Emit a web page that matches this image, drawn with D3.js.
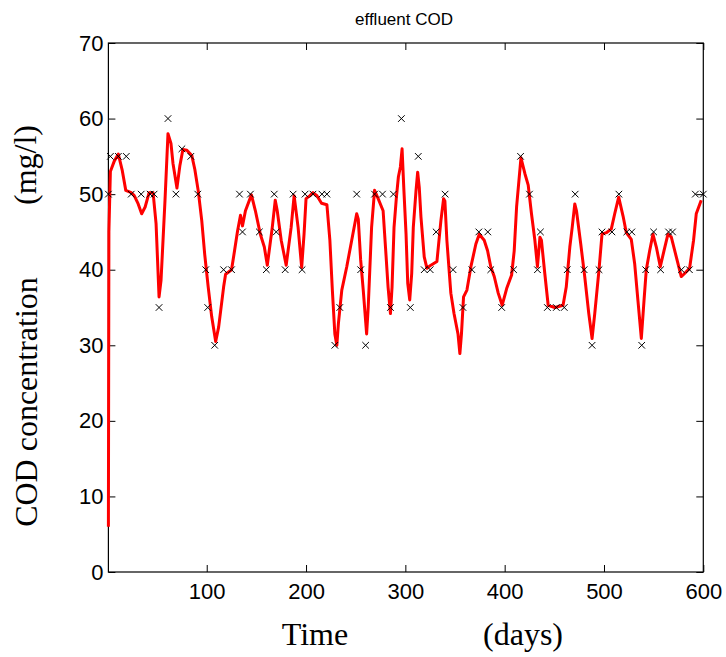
<!DOCTYPE html>
<html><head><meta charset="utf-8">
<script src="https://cdn.jsdelivr.net/npm/d3@7"></script>
<style>
html,body{margin:0;padding:0;background:#fff;}
svg{display:block;}
</style>
</head><body>
<svg id="chart" width="726" height="657"></svg>
<script>
// ---- data ----
const title = "effluent COD";
const xTicks = [100, 200, 300, 400, 500, 600];
const yTicks = [0, 10, 20, 30, 40, 50, 60, 70];

// measured effluent COD (crosses)
const measDays = [1,3,11,19,24,34,43,47,52,61,69,75,84,91,99,101,108,117,125,133,136,144,153,160,168,170,179,187,196,199,207,216,221,229,234,251,255,260,269,277,285,288,296,305,313,319,325,331,340,348,358,367,374,383,386,397,409,416,425,433,436,443,452,460,463,471,480,488,495,498,508,515,523,528,538,542,550,557,565,569,578,586,592,600];
const measVals = [50,55,55,55,50,50,50,50,35,60,50,56,55,50,40,35,30,40,40,50,45,50,45,40,50,45,40,50,40,50,50,50,50,30,35,50,40,30,50,50,35,50,60,35,55,40,40,45,50,40,35,40,45,45,40,35,40,55,50,40,45,35,35,35,40,50,40,30,40,45,45,50,45,45,30,40,45,40,45,45,40,40,50,50];

// model output (red line)
const predDays = [1,1.5,3,7,11,15,18.5,24,27,31,34.5,38,42,46,49,52,54,58,61,64,66,70,73,76,80,85,88,91.5,95,98,101.5,105,109,112,117,119,125,128,131,134,136,139,145,149,154,158,161,166,169,171,175,180,185,188,192,195.6,198,200,204,207,211,215.6,221,224,226.5,229,231,232.6,236,241,246,251,252.6,255,257.6,261,262.6,266,269,272.6,277.6,280,282.6,285,286.6,288.6,291,293,295,296.7,298.4,300.7,302.4,304.4,306.4,308,310.7,312.4,314,315.7,319,321.7,325.7,331.8,335.8,338.5,339.8,341.8,345.8,349,353,354.9,356.5,358.6,362,366,371,374.4,379.4,382.8,386,389.5,393.5,397.5,402,407,409.6,412,416.4,420.4,423.7,427,430.4,433,435.5,437,440.4,443.8,450.5,458.8,462,465.6,468,470.6,472.3,476.6,480.6,484.7,488,490.7,495,498,502.4,507.4,510.8,514.8,519.2,522.5,527.5,530.9,534.2,537.6,540.3,542.6,546,549.3,552.7,556.7,560.4,564.4,567.8,572.8,577.8,581.2,586.2,590.2,592.9,597.9];
const predVals = [6,45,53,54.4,55.3,53.1,50.5,50.2,49.8,48.7,47.4,48.3,50.2,50.2,46.1,36.4,38.6,49.2,58,56.7,54.1,50.8,53.8,55.9,55.8,55.1,53.3,50.4,46.5,42,37.7,33.8,30.5,32.4,37.7,39.4,40,42.5,45.1,47.2,45.8,47.8,49.9,47.8,44.7,43,40.6,45.6,49.2,47.8,43.9,40.6,45.6,49.8,45.6,40.3,44.7,49.4,49.8,50.2,49.8,48.8,48.6,43.9,37.3,31.5,30,32.9,37.3,40.4,43.9,47.4,46.7,41.3,37.3,31.5,35,45.6,50.5,49.4,47.8,43,37.7,34.2,37.7,45.6,49.6,52.3,53.6,56,50.9,44.7,38.2,36,39.5,45.6,50.4,52.9,50.9,47,41.7,40.2,40.6,41.1,46.5,49.4,49.1,43.9,36.9,34.2,31.5,28.9,31.5,36.4,37.3,40.4,43.4,44.7,43.9,42.5,40.4,39.1,36.9,35.3,37.5,39.3,42.5,48.3,54.8,52.7,51.2,47.4,43.9,40.4,44.3,43.9,39.5,35.3,35,35.3,37.7,43,45.6,48.7,47.8,43.4,39.1,34.2,30.9,34.2,40,44.7,44.9,45.4,47.4,49.6,47.1,44.9,44,40.8,35.9,30.9,35.9,40,42.5,44.7,43,40.4,42.5,44.7,44.3,41.7,39.1,39.5,40.2,43.9,47.4,49.2];

// ---- drawing ----
(function () {
const svg = d3.select("#chart");
const pLeft = 108.4, pRight = 703.3, pTop = 43, pBottom = 572;
const x = d3.scaleLinear().domain([1, 600]).range([pLeft, pRight]);
const y = d3.scaleLinear().domain([0, 70]).range([pBottom, pTop]);
const sans = "'Liberation Sans', Arial, sans-serif";
const serif = "'Liberation Serif', 'Times New Roman', serif";

// box
svg.append("rect").attr("x", pLeft).attr("y", pTop).attr("width", pRight - pLeft).attr("height", pBottom - pTop)
  .attr("fill", "none").attr("stroke", "#000").attr("stroke-width", 1.2);

// axes with inward ticks
const gx = svg.append("g").attr("transform", `translate(0,${pBottom})`)
  .call(d3.axisBottom(x).tickValues(xTicks).tickSize(-7).tickSizeOuter(0).tickPadding(11).tickFormat(d3.format("d")));
const gxt = svg.append("g").attr("transform", `translate(0,${pTop})`)
  .call(d3.axisTop(x).tickValues(xTicks).tickSize(-7).tickSizeOuter(0).tickFormat(""));
const gy = svg.append("g").attr("transform", `translate(${pLeft},0)`)
  .call(d3.axisLeft(y).tickValues(yTicks).tickSize(-7).tickSizeOuter(0).tickPadding(5).tickFormat(d3.format("d")));
const gyr = svg.append("g").attr("transform", `translate(${pRight},0)`)
  .call(d3.axisRight(y).tickValues(yTicks).tickSize(-7).tickSizeOuter(0).tickFormat(""));
[gx, gxt, gy, gyr].forEach(g => {
  g.select(".domain").remove();
  g.selectAll(".tick line").attr("stroke", "#000").attr("stroke-width", 1);
  g.selectAll(".tick text").attr("fill", "#000").style("font-family", sans).style("font-size", "22px");
});

// model line
const line = d3.line().x((d, i) => x(predDays[i])).y((d, i) => y(predVals[i]));
svg.append("path").datum(predVals).attr("d", line)
  .attr("fill", "none").attr("stroke", "#ff0000").attr("stroke-width", 3)
  .attr("stroke-linejoin", "round").attr("stroke-linecap", "butt");

// crosses
const s = 3.3;
const cg = svg.append("g");
measDays.forEach((d, i) => {
  const cx = x(d), cy = y(measVals[i]);
  cg.append("path")
    .attr("d", `M${cx - s},${cy - s}L${cx + s},${cy + s}M${cx - s},${cy + s}L${cx + s},${cy - s}`)
    .attr("stroke", "#000").attr("stroke-width", 1).attr("fill", "none");
});

// title
svg.append("text").attr("x", 404).attr("y", 25).attr("text-anchor", "middle")
  .style("font-family", sans).style("font-size", "17px").attr("fill", "#000").text(title);

// x label
svg.append("text").attr("x", 315).attr("y", 645).attr("text-anchor", "middle")
  .style("font-family", serif).style("font-size", "32px").attr("fill", "#000").text("Time");
svg.append("text").attr("x", 523).attr("y", 645).attr("text-anchor", "middle")
  .style("font-family", serif).style("font-size", "32px").attr("fill", "#000").text("(days)");

// y label
svg.append("text").attr("transform", "translate(37,402) rotate(-90)").attr("text-anchor", "middle")
  .style("font-family", serif).style("font-size", "32px").attr("fill", "#000").text("COD concentration");
svg.append("text").attr("transform", "translate(36,165) rotate(-90)").attr("text-anchor", "middle")
  .style("font-family", serif).style("font-size", "32px").attr("fill", "#000").text("(mg/l)");
})();
</script>
</body></html>
